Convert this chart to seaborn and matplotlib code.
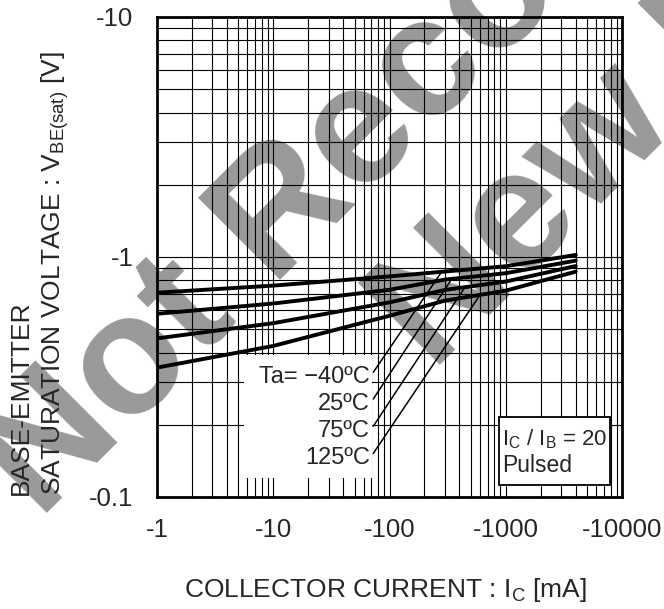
import numpy as np
import pandas as pd
import matplotlib
matplotlib.use('Agg')
import matplotlib.pyplot as plt
import seaborn as sns
from matplotlib.patches import Rectangle

# collector current [mA] (magnitude) and V_BE(sat) [V] (magnitude) per temperature
ic_ma = [1, 10, 100, 300, 1000, 4000]
vbe_m40 = [0.71, 0.76, 0.83, 0.87, 0.915, 1.02]
vbe_25 = [0.58, 0.64, 0.73, 0.805, 0.856, 0.966]
vbe_75 = [0.458, 0.53, 0.647, 0.729, 0.79, 0.917]
vbe_125 = [0.346, 0.426, 0.569, 0.658, 0.724, 0.869]
temps = ['-40', '25', '75', '125']
temp_labels = ['Ta= \u221240\u00baC', '25\u00baC', '75\u00baC', '125\u00baC']

# leader lines: where they touch each curve, and where the labels sit
leader_x = [281, 343, 446, 601]
label_x = 68
label_y = [0.316, 0.244, 0.188, 0.145]

x_ticks = [1, 10, 100, 1000, 10000]
x_tick_labels = ['-1', '-10', '-100', '-1000', '-10000']
y_ticks = [0.1, 1, 10]
y_tick_labels = ['-0.1', '-1', '-10']

curves = [vbe_m40, vbe_25, vbe_75, vbe_125]
df = pd.DataFrame({
    'ic': ic_ma * 4,
    'vbe': sum(curves, []),
    'temp': np.repeat(temps, len(ic_ma)),
})

sns.set_style('white')
plt.rcParams['font.family'] = ['Liberation Sans', 'DejaVu Sans']

fig = plt.figure(figsize=(6.64, 6.09), dpi=100)
ax = fig.add_axes([157 / 664, 112 / 609, 465 / 664, 480 / 609])
ax.set_facecolor('none')

# watermark, under everything
wm = dict(color='#999999', fontsize=122, fontweight='bold', rotation=45,
          rotation_mode='anchor', ha='left', va='baseline', zorder=-5)
fig.text(40 / 664, 1 - 521 / 609, 'Not Recommended for', **wm)
fig.text(433 / 664, 1 - 373 / 609, 'New Designs', **wm)

sns.lineplot(data=df, x='ic', y='vbe', hue='temp', hue_order=temps,
             palette=['black'] * 4, linewidth=2.8, legend=False, ax=ax, zorder=2)

ax.set_xscale('log')
ax.set_yscale('log')
ax.set_xlim(1, 10000)
ax.set_ylim(0.1, 10)
ax.set_axisbelow(True)
ax.grid(True, which='both', color='black', linewidth=0.8)
ax.set_xticks(x_ticks, labels=x_tick_labels)
ax.set_yticks(y_ticks, labels=y_tick_labels)
ax.tick_params(which='both', length=0, labelsize=18.5)
ax.tick_params(axis='x', pad=15)
ax.tick_params(axis='y', pad=17)
ax.set_xlabel('')
ax.set_ylabel('')
for s in ax.spines.values():
    s.set_linewidth(2)
    s.set_color('black')

# white area behind the temperature labels
ax.add_patch(Rectangle((5.6, 0.12), 70.7 - 5.6, 0.391 - 0.12,
                       facecolor='white', edgecolor='none', zorder=1))

for lab, ly, lx, vals in zip(temp_labels, label_y, leader_x, curves):
    cy = np.exp(np.interp(np.log(lx), np.log(ic_ma), np.log(vals)))
    ax.annotate(lab, xy=(lx, cy), xytext=(label_x, ly), ha='right', va='center',
                fontsize=17, zorder=3,
                arrowprops=dict(arrowstyle='-', color='black', lw=1.1,
                                shrinkA=0, shrinkB=0, relpos=(1, 0.5)))

# condition box
ax.add_patch(Rectangle((0.735, 0.024), 0.24, 0.142, transform=ax.transAxes,
                       facecolor='white', edgecolor='black', lw=1.3, zorder=3))
ax.text(0.743, 0.121, r'$\mathregular{I_C}$ / $\mathregular{I_B}$ = 20',
        transform=ax.transAxes, fontsize=16, va='center', zorder=4)
ax.text(0.743, 0.065, 'Pulsed', transform=ax.transAxes, fontsize=16.5,
        va='center', zorder=4)

fig.text(385 / 664, 1 - 590 / 609, r'COLLECTOR CURRENT : $\mathregular{I_C}$ [mA]',
         ha='center', va='center', fontsize=19)
fig.text(40 / 664, 1 - 495 / 609,
         'BASE-EMITTER\nSATURATION VOLTAGE : $\\mathregular{V_{BE(sat)}}$ [V]',
         rotation=90, ha='center', va='bottom', multialignment='left',
         linespacing=1.33, fontsize=19)

fig.savefig('out.png', dpi=100)
